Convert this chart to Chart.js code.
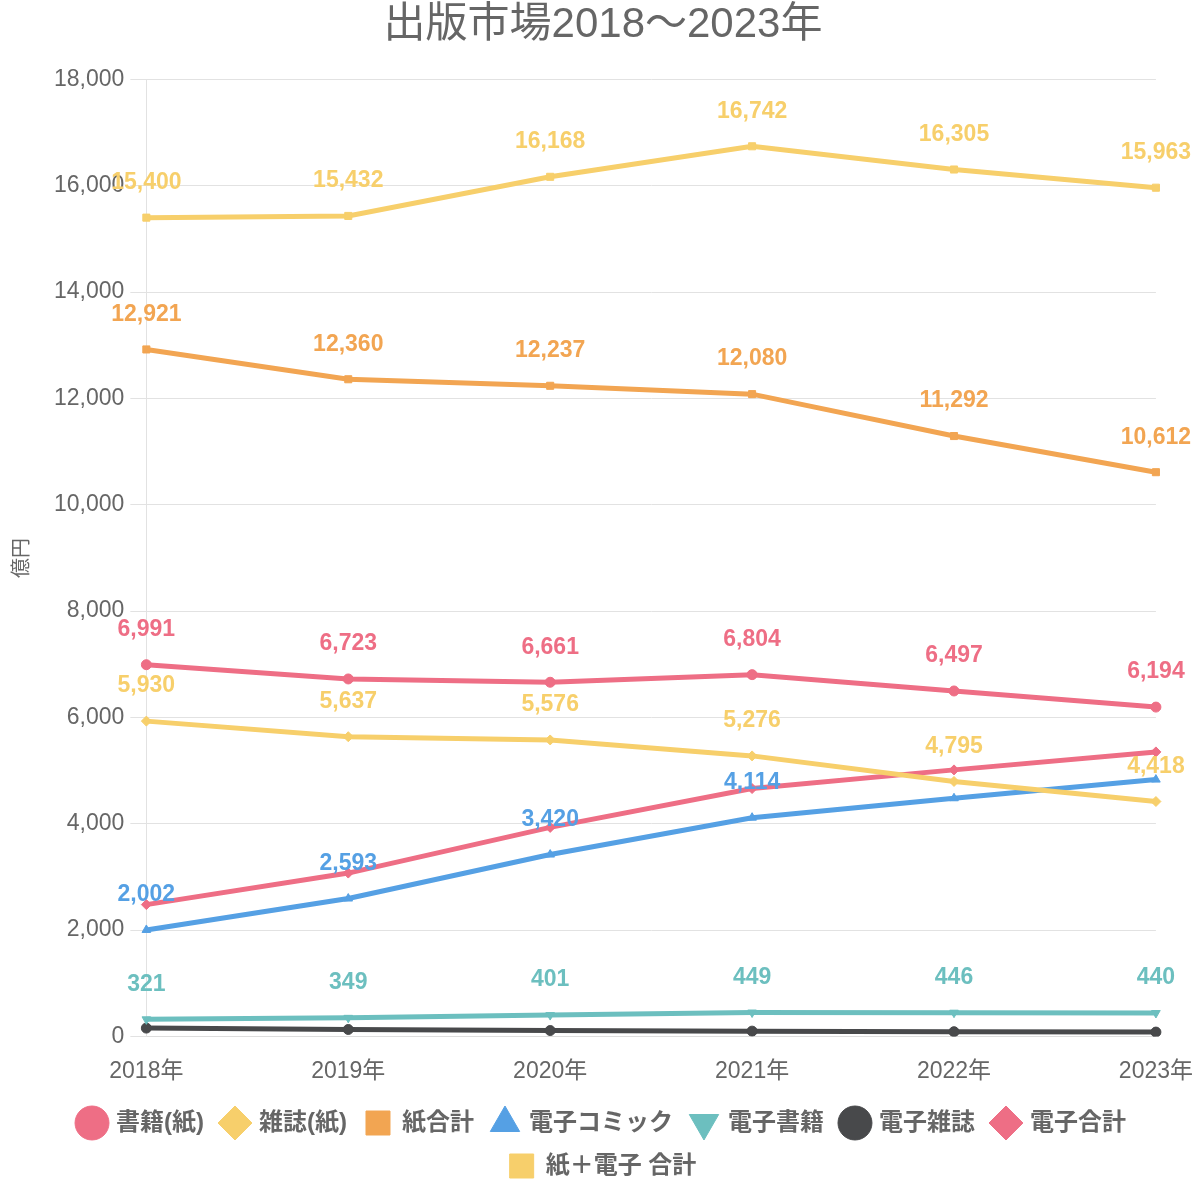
<!DOCTYPE html>
<html>
<head>
<meta charset="utf-8">
<script src="https://cdn.jsdelivr.net/npm/chart.js@4.4.1/dist/chart.umd.min.js"></script>
<style>
  body { margin: 0; background: #fff; }
  #wrap { width: 1200px; height: 1200px; }
</style>
</head>
<body>
<div id="wrap"><canvas id="lineChart"></canvas></div>
<script>
const years = ['2018年', '2019年', '2020年', '2021年', '2022年', '2023年'];

const bookPaper = [6991, 6723, 6661, 6804, 6497, 6194];
const magazinePaper = [5930, 5637, 5576, 5276, 4795, 4418];
const paperTotal = [12921, 12360, 12237, 12080, 11292, 10612];
const eComic = [2002, 2593, 3420, 4114, 4479, 4830];
const eBook = [321, 349, 401, 449, 446, 440];
const eMagazine = [156, 130, 110, 99, 88, 81];
const eTotal = [2479, 3072, 3931, 4662, 5013, 5351];
const grandTotal = [15400, 15432, 16168, 16742, 16305, 15963];

// which points get a value label (comic labels at 2022/2023 are hidden in the original)
const comicLabelShown = [true, true, true, true, false, false];

const yTicks = [0, 2000, 4000, 6000, 8000, 10000, 12000, 14000, 16000, 18000];

const PINK = '#ee6e85';
const YELLOW = '#f7cf6b';
const ORANGE = '#f2a552';
const BLUE = '#55a0e4';
const TEAL = '#6cbfbf';
const DARK = '#48494b';

Chart.defaults.font.family = "'Liberation Sans', 'Noto Sans CJK JP', sans-serif";
Chart.defaults.color = '#666';

function makeSet(label, data, color, style, labels) {
    return {
        label: label,
        data: data,
        borderColor: color,
        backgroundColor: color,
        borderWidth: 5,
        pointStyle: style,
        pointRadius: 5,
        pointBorderWidth: 1,
        pointHoverRadius: 6,
        tension: 0,
        showValues: labels
    };
}

const valueLabels = {
    id: 'valueLabels',
    afterDatasetsDraw(chart) {
        const ctx = chart.ctx;
        ctx.save();
        ctx.font = "bold 23px 'Liberation Sans', sans-serif";
        ctx.textAlign = 'center';
        ctx.textBaseline = 'middle';
        chart.data.datasets.forEach((ds, i) => {
            if (!ds.showValues) return;
            const meta = chart.getDatasetMeta(i);
            if (meta.hidden) return;
            ctx.fillStyle = ds.borderColor;
            meta.data.forEach((pt, j) => {
                if (ds.showValues[j] === false) return;
                ctx.fillText(ds.data[j].toLocaleString('en-US'), pt.x, pt.y - 35);
            });
        });
        ctx.restore();
    }
};

const all = years.map(() => true);

const ctx = document.getElementById('lineChart');
new Chart(ctx, {
    type: 'line',
    data: {
        labels: years,
        datasets: [
            makeSet('書籍(紙)', bookPaper, PINK, 'circle', all),
            makeSet('雑誌(紙)', magazinePaper, YELLOW, 'rectRot', all),
            makeSet('紙合計', paperTotal, ORANGE, 'rect', all),
            makeSet('電子コミック', eComic, BLUE, 'triangle', comicLabelShown),
            Object.assign(makeSet('電子書籍', eBook, TEAL, 'triangle', all), { pointRotation: 180 }),
            makeSet('電子雑誌', eMagazine, DARK, 'circle', null),
            makeSet('電子合計', eTotal, PINK, 'rectRot', null),
            makeSet('紙＋電子 合計', grandTotal, YELLOW, 'rect', all)
        ]
    },
    plugins: [valueLabels],
    options: {
        responsive: true,
        maintainAspectRatio: false,
        animation: false,
        layout: { padding: { top: 0, right: 0, bottom: 12, left: 6 } },
        plugins: {
            title: {
                display: true,
                text: '出版市場2018～2023年',
                font: { size: 42, weight: 'normal' },
                color: '#666',
                padding: { top: 0, bottom: 29 }
            },
            legend: {
                position: 'bottom',
                labels: {
                    usePointStyle: true,
                    font: { size: 24, weight: 'bold' },
                    color: '#666',
                    padding: 19
                }
            },
            tooltip: { enabled: false }
        },
        scales: {
            x: {
                grid: { display: true, color: 'transparent', tickLength: 14 },
                border: { display: true, color: '#ddd' },
                ticks: { font: { size: 23 }, color: '#666', padding: 7 }
            },
            y: {
                min: 0,
                max: 18000,
                afterBuildTicks: axis => { axis.ticks = yTicks.map(v => ({ value: v })); },
                grid: { color: '#e2e2e2', tickLength: 16 },
                border: { display: true, color: '#e2e2e2' },
                ticks: { font: { size: 23 }, color: '#666', padding: 6 },
                title: { display: true, text: '億円', font: { size: 20 }, color: '#666', padding: { top: 4, bottom: 14 } }
            }
        }
    }
});
</script>
</body>
</html>
